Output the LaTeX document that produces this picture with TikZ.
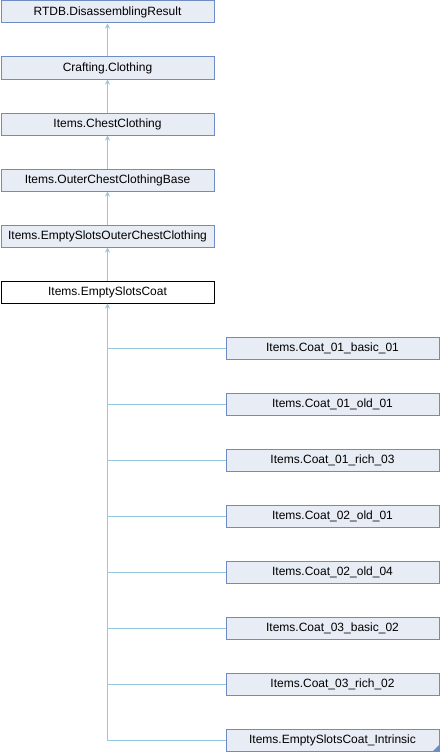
\documentclass[tikz,border=0pt]{standalone}
\usepackage{fontspec}
\setmainfont{Liberation Sans}
\usetikzlibrary{arrows.meta}
\definecolor{boxfill}{RGB}{232,236,245}
\definecolor{boxline}{RGB}{110,140,196}
\definecolor{edgecol}{RGB}{150,200,224}
\begin{document}
\begin{tikzpicture}[x=1pt,y=-1pt,
  cls/.style={draw=boxline,fill=boxfill,line width=1pt,minimum width=213pt,minimum height=22pt,inner sep=0pt,anchor=north west,font=\fontsize{12}{13}\selectfont},
  cur/.style={cls,draw=black,fill=white},
  edge/.style={draw=edgecol,line width=1pt,-{Stealth[length=5pt,width=5pt,fill=edgecol]}}]
\useasboundingbox (0,0) rectangle (440,752);
\node[cls] (a) at (0.5,0.5) {RTDB.DisassemblingResult};
\node[cls] (b) at (0.5,56.5) {Crafting.Clothing};
\node[cls] (c) at (0.5,112.5) {Items.ChestClothing};
\node[cls] (d) at (0.5,168.5) {Items.OuterChestClothingBase};
\node[cls] (e) at (0.5,224.5) {Items.EmptySlotsOuterChestClothing};
\node[cur] (f) at (0.5,280.5) {Items.EmptySlotsCoat};
\node[cls] (g1) at (225.5,336.5) {Items.Coat\_01\_basic\_01};
\node[cls] (g2) at (225.5,392.5) {Items.Coat\_01\_old\_01};
\node[cls] (g3) at (225.5,448.5) {Items.Coat\_01\_rich\_03};
\node[cls] (g4) at (225.5,504.5) {Items.Coat\_02\_old\_01};
\node[cls] (g5) at (225.5,560.5) {Items.Coat\_02\_old\_04};
\node[cls] (g6) at (225.5,616.5) {Items.Coat\_03\_basic\_02};
\node[cls] (g7) at (225.5,672.5) {Items.Coat\_03\_rich\_02};
\node[cls] (g8) at (225.5,728.5) {Items.EmptySlotsCoat\_Intrinsic};
\fill[boxline] ([xshift=-0.5pt,yshift=0.5pt]g8.south east) -- ++(0,-6) -- ++(-6,6) -- cycle;
\path[edge] (b.north) -- (a.south);
\path[edge] (c.north) -- (b.south);
\path[edge] (d.north) -- (c.south);
\path[edge] (e.north) -- (d.south);
\path[edge] (f.north) -- (e.south);
\coordinate (corner) at (f.south |- g8.west);
\path[edge] (g8.west) -- (corner) -- (f.south);
\foreach \i in {1,...,7}{
  \draw[draw=edgecol,line width=1pt] (g\i.west) -- (f.south |- g\i.west);
}
\end{tikzpicture}
\end{document}
